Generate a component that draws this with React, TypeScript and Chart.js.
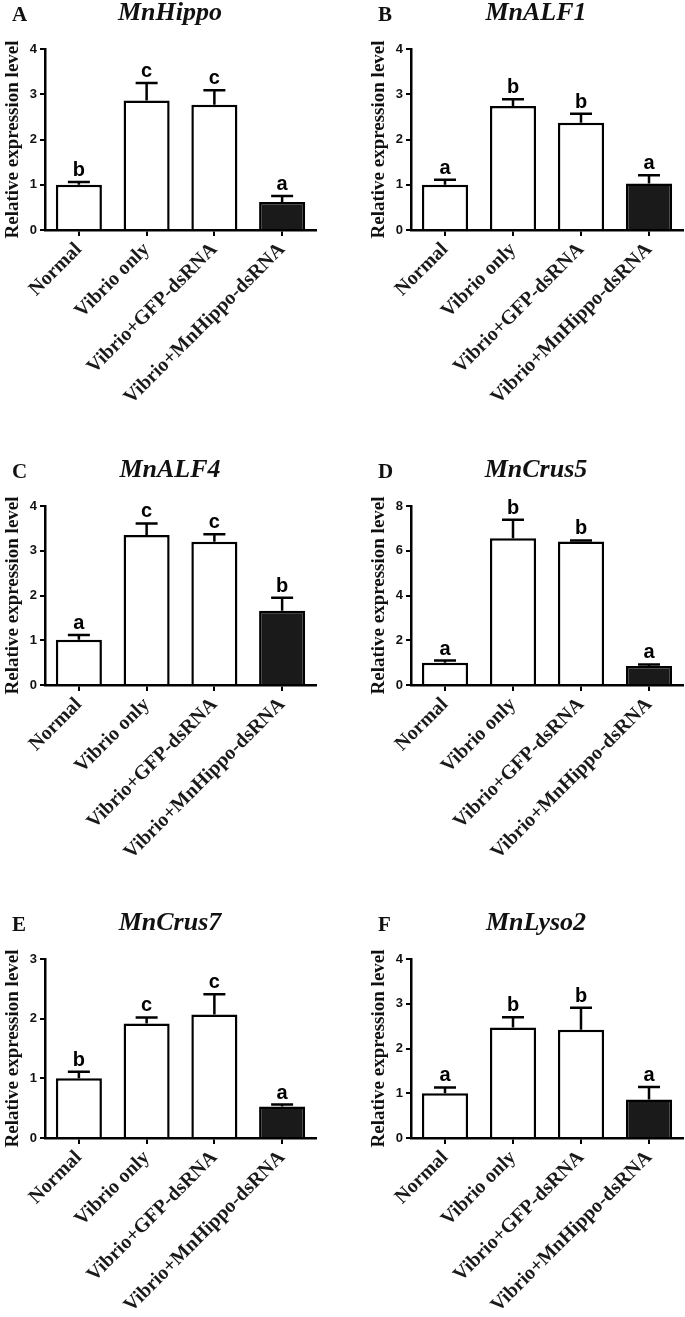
import React, { useEffect, useRef } from "react";
import { Chart, registerables } from "chart.js";
Chart.register(...registerables);

const categories = ["Normal", "Vibrio only", "Vibrio+GFP-dsRNA", "Vibrio+MnHippo-dsRNA"];
const barFill = ["#ffffff", "#ffffff", "#ffffff", "#1a1a1a"];

const hippoMean = [1.0, 2.86, 2.77, 0.62];
const hippoErr = [0.06, 0.39, 0.32, 0.13];
const hippoLetters = ["b", "c", "c", "a"];

const alf1Mean = [1.0, 2.74, 2.37, 1.03];
const alf1Err = [0.11, 0.15, 0.2, 0.18];
const alf1Letters = ["a", "b", "b", "a"];

const alf4Mean = [1.01, 3.35, 3.2, 1.66];
const alf4Err = [0.11, 0.26, 0.17, 0.29];
const alf4Letters = ["a", "c", "c", "b"];

const crus5Mean = [1.0, 6.56, 6.41, 0.85];
const crus5Err = [0.09, 0.82, 0.05, 0.07];
const crus5Letters = ["a", "b", "b", "a"];

const crus7Mean = [1.0, 1.92, 2.07, 0.53];
const crus7Err = [0.11, 0.1, 0.34, 0.03];
const crus7Letters = ["b", "c", "c", "a"];

const lyso2Mean = [1.0, 2.47, 2.42, 0.86];
const lyso2Err = [0.13, 0.23, 0.49, 0.28];
const lyso2Letters = ["a", "b", "b", "a"];

const panelTitles = ["MnHippo", "MnALF1", "MnALF4", "MnCrus5", "MnCrus7", "MnLyso2"];
const panelTags = ["A", "B", "C", "D", "E", "F"];
const yMaxes = [4, 4, 4, 8, 3, 4];
const ySteps = [1, 1, 1, 2, 1, 1];
const yTitle = "Relative expression level";

const means = [hippoMean, alf1Mean, alf4Mean, crus5Mean, crus7Mean, lyso2Mean];
const errs = [hippoErr, alf1Err, alf4Err, crus5Err, crus7Err, lyso2Err];
const letterSets = [hippoLetters, alf1Letters, alf4Letters, crus5Letters, crus7Letters, lyso2Letters];

const rows = [
  { top: 0, h: 420, chartTop: 49, chartBottom: 230 },
  { top: 420, h: 440, chartTop: 86, chartBottom: 265 },
  { top: 860, h: 457, chartTop: 99, chartBottom: 278 },
];
const cols = [
  { left: 0, w: 340, padLeft: 0, chartRight: 316 },
  { left: 340, w: 345, padLeft: 26, chartRight: 343 },
];

function Panel({ idx }: { idx: number }) {
  const ref = useRef<HTMLCanvasElement>(null);
  const row = rows[Math.floor(idx / 2)];
  const col = cols[idx % 2];
  useEffect(() => {
    if (!ref.current) return;
    const mean = means[idx];
    const err = errs[idx];
    const letters = letterSets[idx];
    const annot = {
      id: "annot",
      afterDatasetsDraw(chart: any) {
        const ctx = chart.ctx;
        const meta = chart.getDatasetMeta(0);
        const ys = chart.scales.y;
        ctx.save();
        meta.data.forEach((bar: any, i: number) => {
          const x = bar.x;
          const top = ys.getPixelForValue(mean[i]);
          const capY = ys.getPixelForValue(mean[i] + err[i]);
          ctx.strokeStyle = "#000";
          ctx.lineWidth = 2.5;
          ctx.beginPath();
          ctx.moveTo(x, top);
          ctx.lineTo(x, capY);
          ctx.moveTo(x - 11, capY);
          ctx.lineTo(x + 11, capY);
          ctx.stroke();
          ctx.fillStyle = "#000";
          ctx.font = 'bold 20px "Liberation Sans", Arial, sans-serif';
          ctx.textAlign = "center";
          ctx.textBaseline = "alphabetic";
          ctx.fillText(letters[i], x, capY - 6);
        });
        const ca = chart.chartArea;
        ctx.fillStyle = "#111";
        ctx.font = 'italic bold 26px "Liberation Serif", serif';
        ctx.textAlign = "center";
        ctx.fillText(panelTitles[idx], ca.left + 125, ca.top - 29);
        ctx.font = 'bold 21px "Liberation Serif", serif';
        ctx.textAlign = "left";
        ctx.fillText(panelTags[idx], ca.left - 33, ca.top - 28);
        ctx.restore();
      },
    };
    const chart = new Chart(ref.current, {
      type: "bar",
      data: {
        labels: categories,
        datasets: [
          {
            data: mean,
            backgroundColor: barFill,
            borderColor: "#000",
            borderWidth: 2.5,
            borderSkipped: "start",
            barPercentage: 0.68,
            categoryPercentage: 1,
          },
        ],
      },
      options: {
        responsive: false,
        animation: false,
        devicePixelRatio: 1,
        layout: { padding: { top: row.chartTop, left: col.padLeft, right: col.w - col.chartRight, bottom: 0 } },
        plugins: { legend: { display: false }, tooltip: { enabled: false }, title: { display: false } },
        scales: {
          x: {
            afterFit: (s: any) => {
              s.height = row.h - row.chartBottom;
            },
            grid: {
              display: true,
              drawOnChartArea: false,
              drawTicks: true,
              offset: false,
              tickLength: 6,
              color: "#000",
              lineWidth: 2,
            },
            border: { display: true, color: "#000", width: 2.5 },
            ticks: {
              autoSkip: false,
              maxRotation: 45,
              minRotation: 45,
              padding: 2,
              color: "#1a1a1a",
              font: { family: '"Liberation Serif", serif', weight: "bold", size: 20 },
            },
          },
          y: {
            min: 0,
            max: yMaxes[idx],
            afterFit: (s: any) => {
              s.width = 45;
            },
            grid: {
              display: true,
              drawOnChartArea: false,
              drawTicks: true,
              tickLength: 5,
              color: "#000",
              lineWidth: 2,
            },
            border: { display: true, color: "#000", width: 2.5 },
            ticks: {
              stepSize: ySteps[idx],
              padding: 3,
              color: "#111",
              font: { family: '"Liberation Sans", Arial, sans-serif', weight: "bold", size: 13 },
            },
            title: {
              display: true,
              text: yTitle,
              color: "#111",
              padding: { top: 2, bottom: 0 },
              font: { family: '"Liberation Serif", serif', weight: "bold", size: 19 },
            },
          },
        },
      },
      plugins: [annot],
    });
    return () => chart.destroy();
  }, [idx]);
  return (
    <div style={{ position: "absolute", left: col.left, top: row.top, width: col.w, height: row.h }}>
      <canvas ref={ref} width={col.w} height={row.h} style={{ display: "block" }} />
    </div>
  );
}

export default function App() {
  return (
    <div style={{ position: "absolute", left: 0, top: 0, width: 685, height: 1317, background: "#fff", overflow: "hidden" }}>
      {[0, 1, 2, 3, 4, 5].map((i) => (
        <Panel key={i} idx={i} />
      ))}
    </div>
  );
}
